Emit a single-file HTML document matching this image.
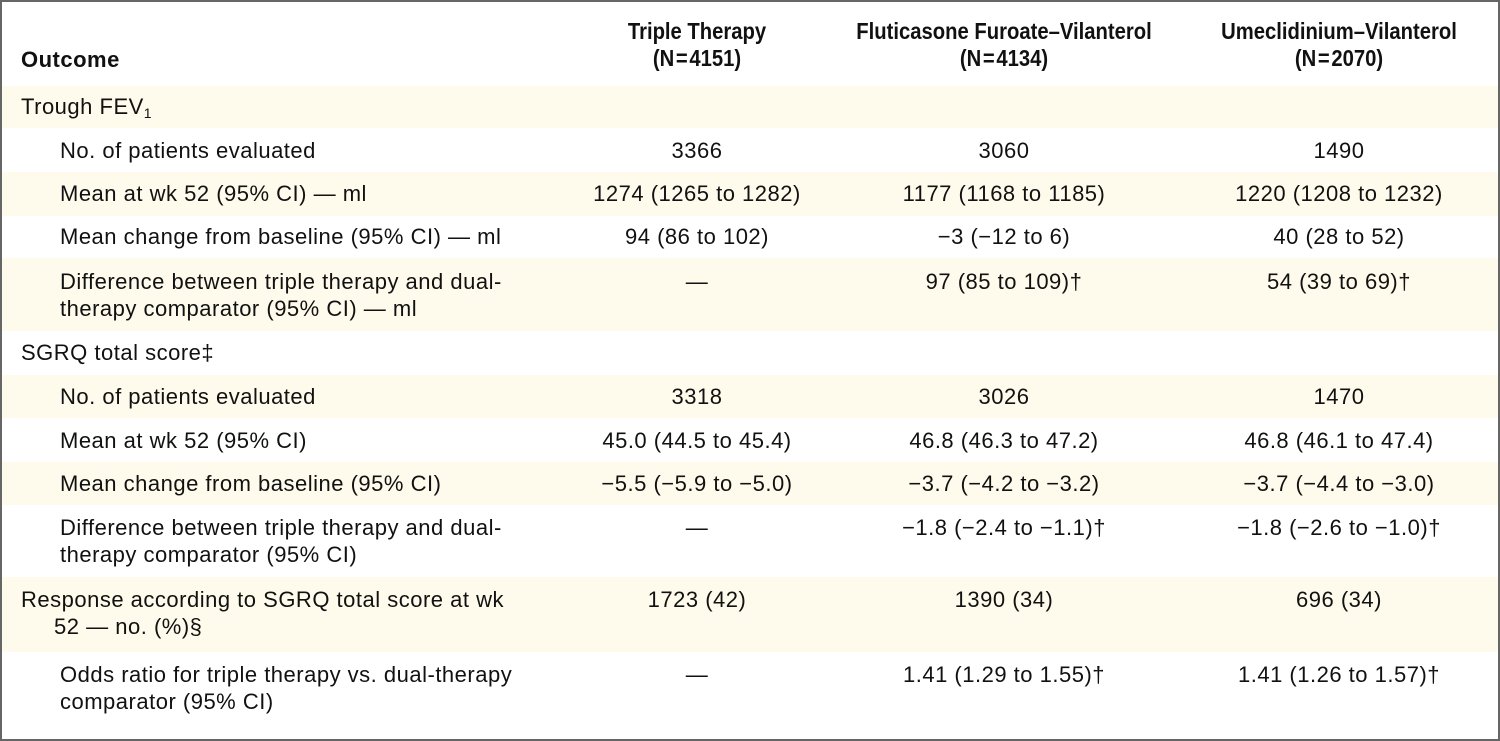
<!DOCTYPE html>
<html><head><meta charset="utf-8"><style>
html,body{margin:0;padding:0;background:#fff;}
#w{position:relative;width:1500px;height:741px;overflow:hidden;font-family:"Liberation Sans",sans-serif;font-size:22px;letter-spacing:0.5px;color:#111;}
#b{position:absolute;left:0;top:0;width:1496px;height:737px;border:2px solid #666;}
.r{position:absolute;left:2px;width:1496px;}
.y{background:#fefbec;}
.t{position:absolute;white-space:nowrap;line-height:27px;}
.c{text-align:center;width:400px;margin-left:-200px;}
.h{font-weight:bold;font-size:23px;letter-spacing:0;transform:scaleX(0.88);}
sub{font-size:14px;vertical-align:-4px;}
</style></head><body><div id="w">
<div class="r y" style="top:86px;height:42px"></div>
<div class="r y" style="top:172px;height:44px"></div>
<div class="r y" style="top:258px;height:73px"></div>
<div class="r y" style="top:375px;height:43px"></div>
<div class="r y" style="top:462px;height:43px"></div>
<div class="r y" style="top:577px;height:75px"></div>
<div id="b"></div>

<div class="t" style="left:21px;top:46px;font-weight:bold">Outcome</div>
<div class="t c h" style="left:697px;top:18px">Triple Therapy<br>(N&#8202;=&#8202;4151)</div>
<div class="t c h" style="left:1004px;top:18px">Fluticasone Furoate–Vilanterol<br>(N&#8202;=&#8202;4134)</div>
<div class="t c h" style="left:1339px;top:18px">Umeclidinium–Vilanterol<br>(N&#8202;=&#8202;2070)</div>

<div class="t" style="left:21px;top:93px">Trough FEV<sub>1</sub></div>

<div class="t" style="left:60px;top:137px">No. of patients evaluated</div>
<div class="t c" style="left:697px;top:137px">3366</div>
<div class="t c" style="left:1004px;top:137px">3060</div>
<div class="t c" style="left:1339px;top:137px">1490</div>

<div class="t" style="left:60px;top:180px">Mean at wk 52 (95% CI) — ml</div>
<div class="t c" style="left:697px;top:180px">1274 (1265 to 1282)</div>
<div class="t c" style="left:1004px;top:180px">1177 (1168 to 1185)</div>
<div class="t c" style="left:1339px;top:180px">1220 (1208 to 1232)</div>

<div class="t" style="left:60px;top:223px">Mean change from baseline (95% CI) — ml</div>
<div class="t c" style="left:697px;top:223px">94 (86 to 102)</div>
<div class="t c" style="left:1004px;top:223px">−3 (−12 to 6)</div>
<div class="t c" style="left:1339px;top:223px">40 (28 to 52)</div>

<div class="t" style="left:60px;top:268px">Difference between triple therapy and dual-<br>therapy comparator (95% CI) — ml</div>
<div class="t c" style="left:697px;top:268px">—</div>
<div class="t c" style="left:1004px;top:268px">97 (85 to 109)†</div>
<div class="t c" style="left:1339px;top:268px">54 (39 to 69)†</div>

<div class="t" style="left:21px;top:339px">SGRQ total score‡</div>

<div class="t" style="left:60px;top:383px">No. of patients evaluated</div>
<div class="t c" style="left:697px;top:383px">3318</div>
<div class="t c" style="left:1004px;top:383px">3026</div>
<div class="t c" style="left:1339px;top:383px">1470</div>

<div class="t" style="left:60px;top:427px">Mean at wk 52 (95% CI)</div>
<div class="t c" style="left:697px;top:427px">45.0 (44.5 to 45.4)</div>
<div class="t c" style="left:1004px;top:427px">46.8 (46.3 to 47.2)</div>
<div class="t c" style="left:1339px;top:427px">46.8 (46.1 to 47.4)</div>

<div class="t" style="left:60px;top:470px">Mean change from baseline (95% CI)</div>
<div class="t c" style="left:697px;top:470px">−5.5 (−5.9 to −5.0)</div>
<div class="t c" style="left:1004px;top:470px">−3.7 (−4.2 to −3.2)</div>
<div class="t c" style="left:1339px;top:470px">−3.7 (−4.4 to −3.0)</div>

<div class="t" style="left:60px;top:514px">Difference between triple therapy and dual-<br>therapy comparator (95% CI)</div>
<div class="t c" style="left:697px;top:514px">—</div>
<div class="t c" style="left:1004px;top:514px">−1.8 (−2.4 to −1.1)†</div>
<div class="t c" style="left:1339px;top:514px">−1.8 (−2.6 to −1.0)†</div>

<div class="t" style="left:21px;top:586px">Response according to SGRQ total score at wk<br>&nbsp;&nbsp;&nbsp;&nbsp;&nbsp;52 — no. (%)§</div>
<div class="t c" style="left:697px;top:586px">1723 (42)</div>
<div class="t c" style="left:1004px;top:586px">1390 (34)</div>
<div class="t c" style="left:1339px;top:586px">696 (34)</div>

<div class="t" style="left:60px;top:661px">Odds ratio for triple therapy vs. dual-therapy<br>comparator (95% CI)</div>
<div class="t c" style="left:697px;top:661px">—</div>
<div class="t c" style="left:1004px;top:661px">1.41 (1.29 to 1.55)†</div>
<div class="t c" style="left:1339px;top:661px">1.41 (1.26 to 1.57)†</div>
</div></body></html>
